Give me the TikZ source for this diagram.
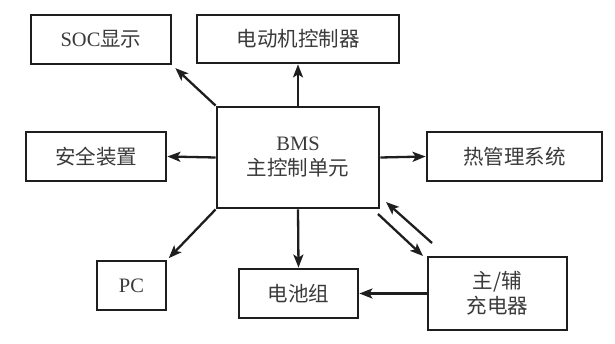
\documentclass[tikz,border=0pt]{standalone}
\usepackage{fontspec}
\setmainfont{Noto Sans CJK SC}
\newfontfamily\latfont{Liberation Serif}
\usetikzlibrary{arrows.meta}
\definecolor{txt}{HTML}{3A3A3A}
\definecolor{ln}{HTML}{1E1E1E}
\begin{document}
\begin{tikzpicture}[x=1pt,y=1pt,
  box/.style={draw=ln,line width=2.8pt,rectangle,inner sep=0pt,text=txt,
    font=\fontsize{20.5}{25}\selectfont,align=center},
  conn/.style={draw=ln,line width=2.3pt,-{Stealth[length=13pt,width=10pt,inset=3pt]}}]
\useasboundingbox (0,0) rectangle (615,343);
\fill[white] (0,0) rectangle (615,343);
\node[box,minimum width=140pt,minimum height=49pt] (soc) at (101,303.5) {{\latfont SOC}显示};
\node[box,minimum width=202pt,minimum height=48pt] (motor) at (298,304) {电动机控制器};
\node[box,minimum width=162pt,minimum height=101pt] (bms) at (298,185.5) {{\latfont BMS}\\主控制单元};
\node[box,minimum width=175pt,minimum height=49pt] (heat) at (514.5,186.5) {热管理系统};
\node[box,minimum width=140pt,minimum height=49pt] (safe) at (96,186.5) {安全装置};
\node[box,minimum width=69pt,minimum height=49pt] (pc) at (131.5,57.5) {{\latfont PC}};
\node[box,minimum width=119pt,minimum height=49pt] (bat) at (298.5,49.5) {电池组};
\node[box,minimum width=139pt,minimum height=73pt] (chg) at (497.5,49.5) {主/辅\\充电器};
\coordinate (a1s) at (378,129);
\coordinate (a1e) at (423,87);
\coordinate (a2s) at (432,100);
\coordinate (a2e) at (386,141);
\draw[conn,shorten >=4pt] (bms.north west) -- (soc.south east);
\draw[conn] (bms.north) -- (motor.south);
\draw[conn] (bms.east) -- (heat.west);
\draw[conn] (bms.west) -- (safe.east);
\draw[conn] (bms.south) -- (bat.north);
\draw[conn,shorten >=2pt] (bms.south west) -- (pc.north east);
\draw[conn] (chg.west) -- (bat.east);
\draw[conn] (a1s) -- (a1e);
\draw[conn] (a2s) -- (a2e);
\end{tikzpicture}
\end{document}
